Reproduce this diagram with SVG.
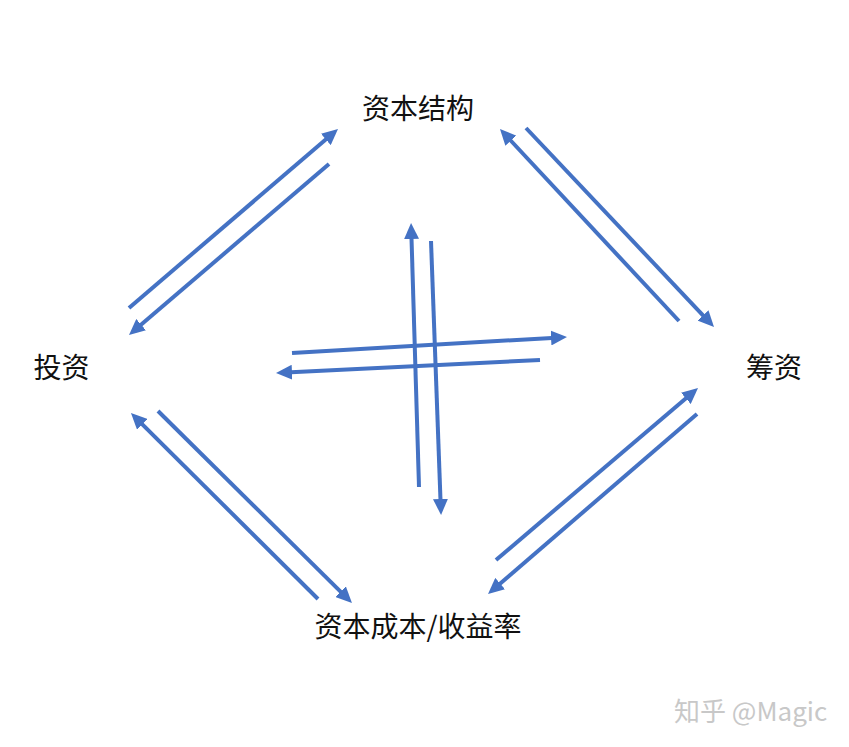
<svg xmlns="http://www.w3.org/2000/svg" width="849" height="747" viewBox="0 0 849 747">
<style>
.lbl{font-family:"Noto Sans CJK SC","Noto Sans",sans-serif;font-size:28px;fill:#111;text-anchor:middle}
.wm{font-family:"Noto Sans CJK SC","Noto Sans",sans-serif;font-size:26px;fill:#c8c8c8}
.c{stroke:#4472C4;stroke-width:4;fill:none;marker-end:url(#ah)}
</style>
<defs>
<marker id="ah" viewBox="0 0 16 15" refX="1" refY="7.5" markerWidth="16" markerHeight="15" markerUnits="userSpaceOnUse" orient="auto">
<path d="M0,0 L16,7.5 L0,15 z" fill="#4472C4"/>
</marker>
</defs>
<rect width="849" height="747" fill="#fff"/>
<g id="connectors">
<line class="c" x1="129" y1="308" x2="326.6" y2="138.8"/>
<line class="c" x1="329" y1="164" x2="140.4" y2="325.3"/>
<line class="c" x1="679" y1="321" x2="510.2" y2="140"/>
<line class="c" x1="526" y1="128" x2="703.7" y2="316.1"/>
<line class="c" x1="419" y1="487" x2="411.5" y2="238"/>
<line class="c" x1="431" y1="241" x2="440.5" y2="500"/>
<line class="c" x1="292" y1="353" x2="552" y2="337.9"/>
<line class="c" x1="540" y1="360" x2="291" y2="372.3"/>
<line class="c" x1="318" y1="599" x2="141.6" y2="423.6"/>
<line class="c" x1="158" y1="411" x2="341.3" y2="592.4"/>
<line class="c" x1="496" y1="560" x2="686.6" y2="397.7"/>
<line class="c" x1="697" y1="414" x2="499.4" y2="584.2"/>
</g>
<g id="node-structure"><text class="lbl" x="418" y="119">资本结构</text></g>
<g id="node-invest"><text class="lbl" x="61.5" y="378">投资</text></g>
<g id="node-finance"><text class="lbl" x="774" y="378">筹资</text></g>
<g id="node-cost"><text class="lbl" x="418" y="637">资本成本/收益率</text></g>
<text class="wm" x="674" y="721">知乎 @Magic</text>
</svg>
